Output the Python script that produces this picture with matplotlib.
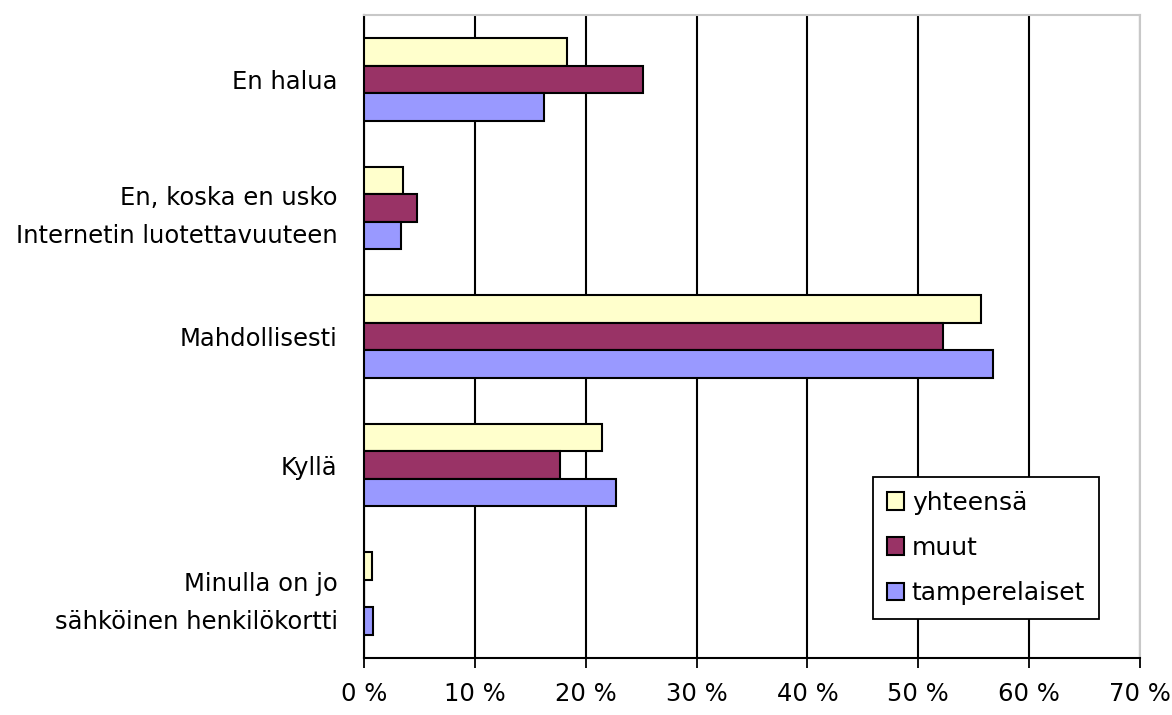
import matplotlib.pyplot as plt
import numpy as np

categories = ["En halua",
              "En, koska en usko\nInternetin luotettavuuteen",
              "Mahdollisesti",
              "Kyllä",
              "Minulla on jo\nsähköinen henkilökortti"]
series_names = ["yhteensä", "muut", "tamperelaiset"]
yhteensa = [18.3, 3.5, 55.7, 21.5, 0.7]
muut = [25.2, 4.8, 52.2, 17.7, 0.0]
tamperelaiset = [16.2, 3.3, 56.7, 22.7, 0.8]
colors = ["#FFFFCC", "#993366", "#9999FF"]
xticks = [0, 10, 20, 30, 40, 50, 60, 70]

plt.rcParams['font.family'] = ['DejaVu Sans']

fig = plt.figure(figsize=(11.72, 7.15), dpi=100)
ax = fig.add_axes([0.3106, 0.0797, 0.6621, 0.8993])

y = np.arange(len(categories))
h = 0.214
for i, (vals, name) in enumerate(zip([yhteensa, muut, tamperelaiset], series_names)):
    ax.barh(y + (i - 1) * h, vals, height=h, color=colors[i], edgecolor="black",
            linewidth=1.5, label=name, zorder=3)

ax.set_ylim(len(categories) - 0.5, -0.5)
ax.set_xlim(0, 70)
ax.set_xticks(xticks)
ax.set_xticklabels([f"{t} %" for t in xticks], fontsize=17.5)
ax.set_yticks(y)
ax.set_yticklabels(categories, fontsize=17.5, ha="right")
for lab in ax.get_yticklabels():
    lab.set_linespacing(1.7)

ax.xaxis.grid(True, color="black", linewidth=1.5, zorder=0)
ax.tick_params(axis="y", length=0, pad=19)
ax.tick_params(axis="x", length=7, width=1.3, direction="out", pad=10)

for s in ["top", "right"]:
    ax.spines[s].set_color("#c8c8c8")
    ax.spines[s].set_linewidth(1.5)
for s in ["left", "bottom"]:
    ax.spines[s].set_color("black")
    ax.spines[s].set_linewidth(1.5)

leg = ax.legend(loc="lower left", bbox_to_anchor=(0.656, 0.061), fontsize=18,
                frameon=True, fancybox=False, edgecolor="black", framealpha=1,
                handlelength=0.7, handleheight=0.7, handletextpad=0.3,
                labelspacing=0.85, borderpad=0.55, borderaxespad=0)
leg.get_frame().set_linewidth(1.3)
leg.set_zorder(5)

plt.savefig("out.png", dpi=100)
